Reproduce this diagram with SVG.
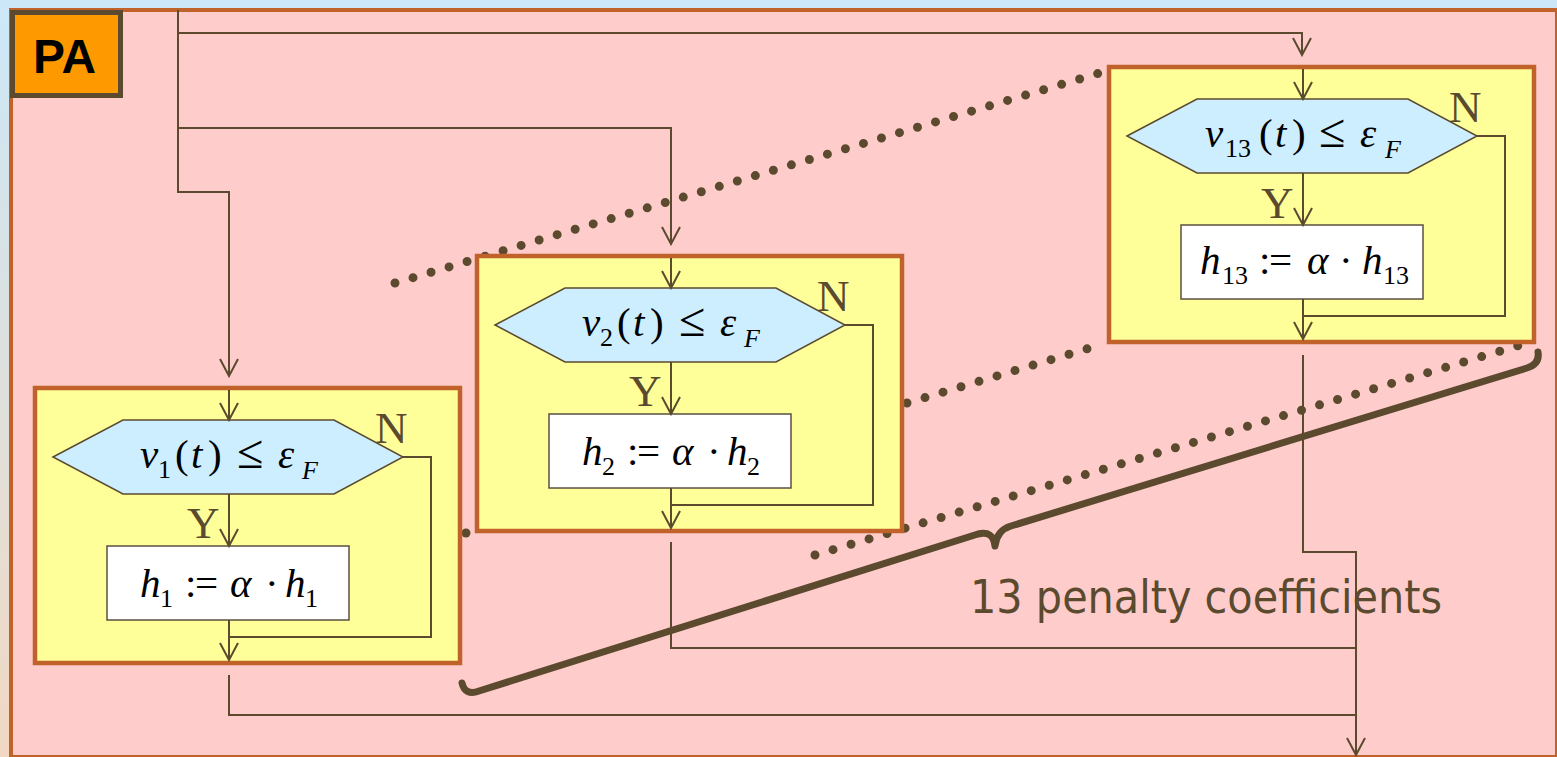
<svg xmlns="http://www.w3.org/2000/svg" width="1557" height="757" viewBox="0 0 1557 757">
<defs>
<linearGradient id="bg" x1="0" y1="0" x2="0" y2="1">
<stop offset="0" stop-color="#cce8f8"/>
<stop offset="1" stop-color="#f0d8c2"/>
</linearGradient>
<marker id="ah" markerUnits="userSpaceOnUse" viewBox="-20 -12 22 24" refX="0" refY="0" markerWidth="22" markerHeight="24" orient="auto">
<path d="M-17,-9 L0,0 L-17,9" fill="none" stroke="#5b4a2e" stroke-width="2"/>
</marker>
<style>
.box{fill:#ffff99;stroke:#c0622a;stroke-width:4.5}
.hex{fill:#cceeff;stroke:#5b4a2e;stroke-width:1.5}
.op{fill:#ffffff;stroke:#5b5040;stroke-width:1.5}
.c{fill:none;stroke:#5b4a2e;stroke-width:2}
.ca{fill:none;stroke:#5b4a2e;stroke-width:2;marker-end:url(#ah)}
.dot{fill:none;stroke:#5b4a2e;stroke-width:9;stroke-linecap:round;stroke-dasharray:0 18.8}
.m{font-family:"Liberation Serif","Times New Roman",serif;font-size:41px;fill:#000}
.i{font-style:italic}
.s{font-size:26px}
.le{font-size:48px}
.lb{font-family:"Liberation Serif","Times New Roman",serif;font-size:45px;fill:#5b4a2e}
</style>
</defs>
<rect x="0" y="0" width="1557" height="757" fill="url(#bg)"/>
<rect x="11" y="10" width="1546" height="747" fill="#ffcccc" stroke="#c0622a" stroke-width="4"/>
<g id="pa">
<rect x="12.5" y="12.5" width="108" height="83" fill="#ff9900" stroke="#5b4a2e" stroke-width="5"/>
<text x="64.5" y="73" text-anchor="middle" font-family="'Liberation Sans',Arial,sans-serif" font-weight="bold" font-size="48" textLength="63" lengthAdjust="spacingAndGlyphs" fill="#000">PA</text>
</g>
<g id="dots">
<line class="dot" x1="395" y1="283" x2="1103" y2="72"/>
<line class="dot" x1="907" y1="403" x2="1103" y2="344"/>
<line class="dot" x1="815" y1="555" x2="1524" y2="344"/>
<circle cx="466" cy="533" r="4.5" fill="#5b4a2e"/>
</g>
<g id="box1">
<rect class="box" x="35" y="388" width="425" height="275"/>
<polygon class="hex" points="53,457 123,420 334,420 403,457 334,494 123,494"/>
<rect class="op" x="107" y="546" width="242" height="74"/>
<text class="m"><tspan class="i" x="140" y="468">v</tspan><tspan class="s" x="158" y="478">1</tspan><tspan x="175" y="468">(</tspan><tspan class="i" x="191" y="468">t</tspan><tspan x="208" y="468">)</tspan><tspan class="le" x="237" y="468">≤</tspan><tspan class="i" x="278" y="468">ε</tspan><tspan class="i s" x="302" y="479">F</tspan></text>
<text class="m"><tspan class="i" x="140" y="597">h</tspan><tspan class="s" x="160" y="607">1</tspan><tspan x="185" y="597">:</tspan><tspan x="195" y="597">=</tspan><tspan class="i" x="230" y="597">α</tspan><tspan x="265" y="597">·</tspan><tspan class="i" x="285" y="597">h</tspan><tspan class="s" x="305" y="607">1</tspan></text>
<text class="lb" x="187" y="538">Y</text>
<text class="lb" x="375" y="443">N</text>
</g>
<g id="box2">
<rect class="box" x="477" y="256" width="425" height="275"/>
<polygon class="hex" points="495,325 565,288 776,288 845,325 776,362 565,362"/>
<rect class="op" x="549" y="414" width="242" height="74"/>
<text class="m"><tspan class="i" x="582" y="336">v</tspan><tspan class="s" x="600" y="346">2</tspan><tspan x="617" y="336">(</tspan><tspan class="i" x="633" y="336">t</tspan><tspan x="650" y="336">)</tspan><tspan class="le" x="679" y="336">≤</tspan><tspan class="i" x="720" y="336">ε</tspan><tspan class="i s" x="744" y="347">F</tspan></text>
<text class="m"><tspan class="i" x="582" y="465">h</tspan><tspan class="s" x="602" y="475">2</tspan><tspan x="627" y="465">:</tspan><tspan x="637" y="465">=</tspan><tspan class="i" x="672" y="465">α</tspan><tspan x="707" y="465">·</tspan><tspan class="i" x="727" y="465">h</tspan><tspan class="s" x="747" y="475">2</tspan></text>
<text class="lb" x="629" y="406">Y</text>
<text class="lb" x="817" y="311">N</text>
</g>
<g id="box13">
<rect class="box" x="1109" y="67" width="425" height="275"/>
<polygon class="hex" points="1127,136 1197,99 1408,99 1477,136 1408,173 1197,173"/>
<rect class="op" x="1181" y="225" width="242" height="74"/>
<text class="m"><tspan class="i" x="1205" y="147">v</tspan><tspan class="s" x="1225" y="157">13</tspan><tspan x="1259" y="147">(</tspan><tspan class="i" x="1275" y="147">t</tspan><tspan x="1292" y="147">)</tspan><tspan class="le" x="1319" y="147">≤</tspan><tspan class="i" x="1360" y="147">ε</tspan><tspan class="i s" x="1385" y="158">F</tspan></text>
<text class="m"><tspan class="i" x="1200" y="274">h</tspan><tspan class="s" x="1222" y="284">13</tspan><tspan x="1259" y="274">:</tspan><tspan x="1269" y="274">=</tspan><tspan class="i" x="1307" y="274">α</tspan><tspan x="1339" y="274">·</tspan><tspan class="i" x="1362" y="274">h</tspan><tspan class="s" x="1383" y="284">13</tspan></text>
<text class="lb" x="1261" y="218">Y</text>
<text class="lb" x="1449" y="122">N</text>
</g>
<g id="connectors">
<path class="ca" d="M178,10 V192 H229 V376"/>
<path class="ca" d="M178,33 H1302 V55"/>
<path class="ca" d="M178,128 H671 V244"/>
<path class="ca" d="M229,390 V420"/>
<path class="ca" d="M229,494 V546"/>
<path class="ca" d="M229,620 V660"/>
<path class="c" d="M403,457 H431 V637 H229"/>
<path class="ca" d="M671,258 V288"/>
<path class="ca" d="M671,362 V414"/>
<path class="ca" d="M671,488 V528"/>
<path class="c" d="M845,325 H873 V505 H671"/>
<path class="ca" d="M1303,69 V99"/>
<path class="ca" d="M1303,173 V225"/>
<path class="ca" d="M1303,299 V339"/>
<path class="c" d="M1477,136 H1505 V316 H1303"/>
<path class="c" d="M229,675 V715 H1356"/>
<path class="c" d="M671,542 V648 H1356"/>
<path class="ca" d="M1303,355 V552 H1356 V755"/>
</g>
<g id="brace">
<path d="M462,683 Q465,696 479,691 L978,534 Q993,530 995,546 Q997,530 1011,526 L1527,368 Q1540,364 1538,352" fill="none" stroke="#5b4a2e" stroke-width="7" stroke-linecap="round" stroke-linejoin="round"/>
<text x="970" y="613" font-family="'DejaVu Sans',Verdana,sans-serif" font-size="46" textLength="472" lengthAdjust="spacingAndGlyphs" fill="#5b4a2e">13 penalty coefficients</text>
</g>
</svg>
